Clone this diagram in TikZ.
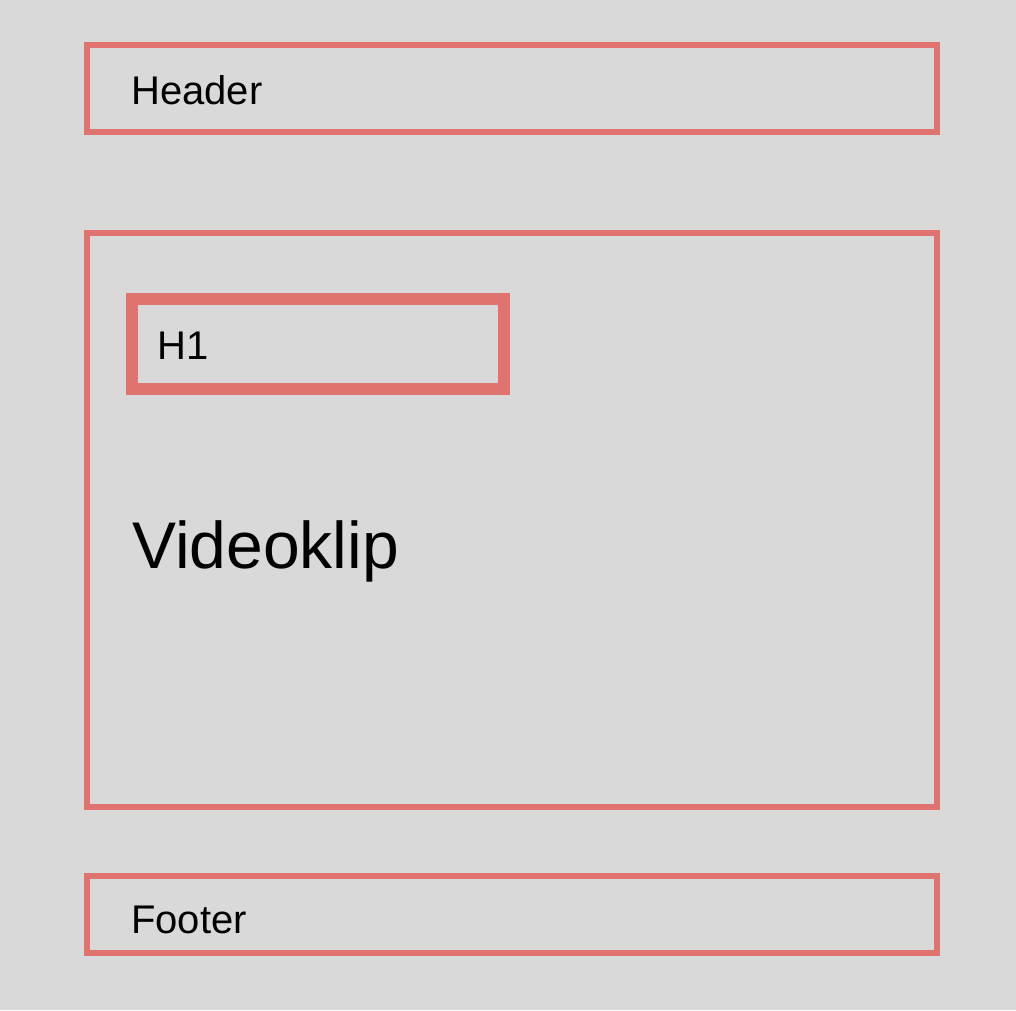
\documentclass[tikz,border=0pt]{standalone}
\usepackage{fontspec}
\setmainfont{Liberation Sans}
\definecolor{pagebg}{RGB}{217,217,217}
\definecolor{frame}{RGB}{224,115,112}
\begin{document}
\begin{tikzpicture}[x=1pt,y=-1pt,
  region/.style={draw=frame, line width=6pt, rectangle, inner sep=0pt, outer sep=0pt},
  heading/.style={region, line width=12pt},
  caption/.style={anchor=base west, inner sep=0pt, font=\fontsize{40}{48}\selectfont},
  bigcaption/.style={caption, font=\fontsize{66}{78}\selectfont}]
  % page background
  \fill[pagebg] (0,0) rectangle (1016,1010);
  \useasboundingbox (0,0) rectangle (1016,1010);

  % layout regions
  \node[region, minimum width=850pt, minimum height=87pt] (header) at (512,88.5) {};
  \node[region, minimum width=850pt, minimum height=574pt] (main) at (512,520) {};
  \node[heading, minimum width=372pt, minimum height=90pt] (h1) at (318,344) {};
  \node[region, minimum width=850pt, minimum height=77pt] (footer) at (512,914.5) {};

  % labels
  \node[caption] (headertext) at (131,104) {Header};
  \node[caption] (h1text) at (157,359) {H1};
  \node[bigcaption] (videotext) at (132,568) {Videoklip};
  \node[caption] (footertext) at (131,933) {Footer};
\end{tikzpicture}
\end{document}
